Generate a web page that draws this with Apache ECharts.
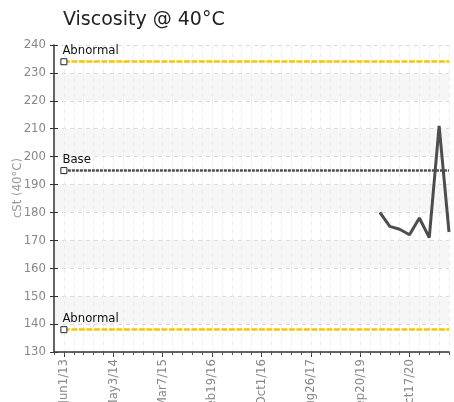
<!DOCTYPE html>
<html>
<head>
<meta charset="utf-8">
<script src="https://cdn.jsdelivr.net/npm/echarts@6/dist/echarts.min.js"></script>
<style>
  html, body { margin: 0; padding: 0; background: #fff; }
  #chart { width: 454px; height: 402px; }
</style>
</head>
<body>
<div id="chart"></div>
<script>
// sample dates (category axis, labels every 5th)
const dates = [
  'Jun1/13', 'Aug2/13', 'Sep18/13', 'Nov5/13', 'Feb11/14',
  'May3/14', 'Jul9/14', 'Aug28/14', 'Oct30/14', 'Jan6/15',
  'Mar7/15', 'May12/15', 'Jul21/15', 'Sep29/15', 'Dec3/15',
  'Feb19/16', 'Apr14/16', 'Jun2/16', 'Jul27/16', 'Aug30/16',
  'Oct1/16', 'Dec8/16', 'Feb15/17', 'Apr20/17', 'Jun22/17',
  'Aug26/17', 'Dec4/17', 'Apr11/18', 'Sep6/18', 'Mar14/19',
  'Sep20/19', 'Dec2/19', 'Feb10/20', 'Apr23/20', 'Jul15/20',
  'Oct17/20', 'Dec9/20', 'Feb24/21', 'May5/21', 'Jul20/21'
]

// cSt @ 40°C, only the last samples have a value
const viscosity = [
  null, null, null, null, null, null, null, null, null, null,
  null, null, null, null, null, null, null, null, null, null,
  null, null, null, null, null, null, null, null, null, null,
  null, null, 180, 175, 174, 172, 178, 171, 211, 173
]

const limitNames = ['Abnormal', 'Base', 'Abnormal']
const limitValues = [234, 195, 138]
const limitColors = ['#f7c600', '#505050', '#f7c600']
const limitDash = [[6, 1.5], [3, 1], [6, 1.5]]

const yMin = 130
const yMax = 240
const yStep = 10

const narrow = '"DejaVu Sans Condensed", "Liberation Sans", sans-serif'

// one empty slot in front so the first sample sits off the y axis
const xData = [''].concat(dates)
const seriesData = [null].concat(viscosity)
const isMajor = (i) => i % 5 === 1

const chart = echarts.init(document.getElementById('chart'))

const limitLines = limitValues.map((v, i) => [
  { coord: [1, v], lineStyle: { color: limitColors[i], type: limitDash[i], width: 2.5 } },
  { coord: [xData.length - 1, v] }
])

const limitMarks = limitValues.map((v, i) => ({
  coord: [1, v],
  name: limitNames[i]
}))

chart.setOption({
  animation: false,
  textStyle: { fontFamily: narrow },
  title: {
    text: 'Viscosity @ 40°C',
    left: 58,
    top: 6,
    textStyle: {
      fontFamily: '"DejaVu Sans", sans-serif',
      fontSize: 19,
      fontWeight: 'normal',
      color: '#222'
    }
  },
  grid: { left: 54, right: 5, top: 45, bottom: 50, outerBoundsMode: 'none', containLabel: false },
  xAxis: [
    {
      type: 'category',
      data: xData,
      boundaryGap: false,
      axisLine: { lineStyle: { color: '#333', width: 1.5 } },
      axisTick: { interval: isMajor, length: 5, lineStyle: { color: '#333' } },
      axisLabel: {
        interval: isMajor,
        rotate: 90,
        margin: 7,
        color: '#888',
        fontSize: 13,
        fontFamily: narrow
      },
      splitLine: {
        show: true,
        interval: isMajor,
        lineStyle: { color: '#d6d6d6', type: [4, 4] }
      }
    },
    {
      type: 'category',
      data: xData,
      boundaryGap: false,
      position: 'bottom',
      axisLine: { show: false },
      axisTick: { interval: 0, length: 3, lineStyle: { color: '#555' } },
      axisLabel: { show: false },
      splitLine: {
        show: true,
        interval: 0,
        lineStyle: { color: '#ececec', type: [4, 4] }
      }
    }
  ],
  yAxis: [
    {
      type: 'value',
      min: yMin,
      max: yMax,
      interval: yStep,
      axisLine: { show: true, lineStyle: { color: '#333', width: 1.5 } },
      axisTick: { show: true, length: 4, lineStyle: { color: '#333' } },
      axisLabel: { color: '#888', fontSize: 13, margin: 8, fontFamily: narrow },
      splitLine: { lineStyle: { color: '#dcdcdc', type: [4, 4] } },
      splitArea: { show: true, areaStyle: { color: ['rgba(255,255,255,0)', '#f6f6f6'] } }
    },
    {
      type: 'value',
      min: yMin,
      max: yMax,
      interval: yStep,
      position: 'left',
      axisLine: { show: false },
      axisTick: { show: true, inside: true, length: 4, lineStyle: { color: '#333' } },
      axisLabel: { show: false },
      splitLine: { show: false }
    }
  ],
  graphic: [{
    type: 'text',
    x: 18,
    y: 188,
    rotation: Math.PI / 2,
    style: {
      text: 'cSt (40°C)',
      font: '13px ' + narrow,
      fill: '#999',
      textAlign: 'center',
      textVerticalAlign: 'middle'
    }
  }],
  series: [
    {
      type: 'line',
      data: seriesData,
      xAxisIndex: 0,
      yAxisIndex: 0,
      showSymbol: false,
      symbol: 'none',
      connectNulls: false,
      lineStyle: { color: '#4d4d4d', width: 3 },
      markLine: {
        silent: true,
        symbol: ['none', 'none'],
        label: { show: false },
        data: limitLines
      },
      markPoint: {
        silent: true,
        symbol: 'rect',
        symbolSize: 6,
        itemStyle: { color: '#fff', borderColor: '#222', borderWidth: 1 },
        label: {
          show: true,
          position: [2, -14],
          formatter: '{b}',
          color: '#111',
          fontSize: 13,
          fontFamily: narrow
        },
        data: limitMarks
      },
      z: 3
    }
  ]
})

window.addEventListener('resize', () => chart.resize())
</script>
</body>
</html>
